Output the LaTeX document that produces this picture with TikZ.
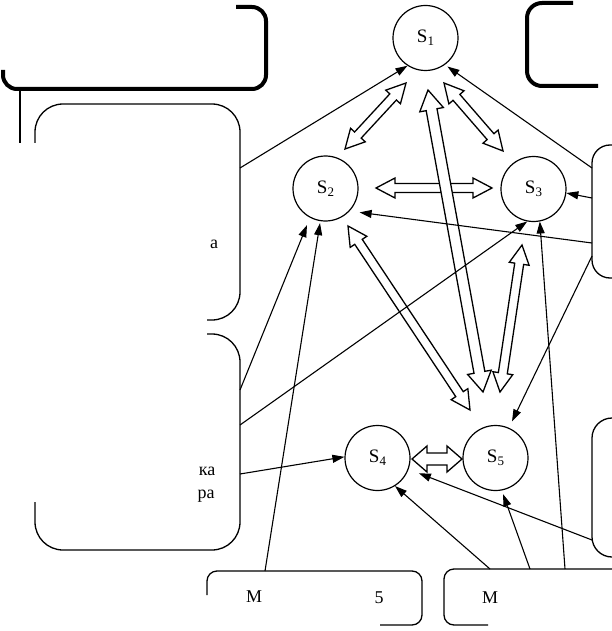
\documentclass[tikz,border=0pt]{standalone}
\usepackage{fontspec}
\setmainfont{Liberation Serif}
\usetikzlibrary{arrows.meta,calc}
\newcommand\hollowarrow[5]{%
\draw[hollow] (#1) -- ($(#1)!#3!(#2)!#4!90:(#2)$) -- ($(#1)!#3!(#2)!#5!90:(#2)$) -- ($(#2)!#3!(#1)!#5!-90:(#1)$) -- ($(#2)!#3!(#1)!#4!-90:(#1)$) -- (#2) -- ($(#2)!#3!(#1)!#4!90:(#1)$) -- ($(#2)!#3!(#1)!#5!90:(#1)$) -- ($(#1)!#3!(#2)!#5!-90:(#2)$) -- ($(#1)!#3!(#2)!#4!-90:(#2)$) -- cycle;}
\newcommand\slabel[1]{S\raisebox{-3pt}{\fontsize{13}{13}\selectfont #1}}
\begin{document}
\begin{tikzpicture}[x=1pt,y=-1pt,
  state/.style={circle,draw,line width=1.2pt,minimum size=65pt,inner sep=0pt,font=\fontsize{19}{19}\selectfont},
  link/.style={line width=1.1pt,-{Triangle[length=12pt,width=8pt]}},
  frame/.style={line width=1.3pt},
  thickframe/.style={line width=4pt},
  hollow/.style={draw,line width=1.3pt,fill=white,line join=miter},
  frag/.style={font=\fontsize{18}{18}\selectfont,inner sep=0pt}]
\useasboundingbox (0,0) rectangle (612,631);

% frames
\draw[thickframe,rounded corners=14pt] (3,70) -- (3,89) -- (266,89) -- (266,7) -- (236,7);
\draw[thickframe,rounded corners=15pt] (573,3) -- (527,3) -- (527,86) -- (598,86);
\draw[frame,line width=1.6pt] (20,89) -- (20,143);
\draw[frame,rounded corners=28pt] (35,143) -- (35,104) -- (240,104) -- (240,320) -- (207,320);
\draw[frame,rounded corners=28pt] (207,334) -- (240,334) -- (240,550) -- (35,550) -- (35,502);
\draw[frame,rounded corners=18pt] (612,145) -- (592,145) -- (592,278) -- (612,278);
\draw[frame,rounded corners=20pt] (612,418) -- (592,418) -- (592,557) -- (612,557);
\draw[frame,rounded corners=10pt] (207,595) -- (207,571) -- (422,571) -- (422,625) -- (380,625);
\draw[frame,rounded corners=10pt] (612,569) -- (444,569) -- (444,625) -- (488,625);

% text fragments
\node[frag] (t1) at (214,244) {а};
\node[frag] (t2) at (207,471) {ка};
\node[frag] (t3) at (206,496) {ра};
\node[frag] (t4) at (254,597) {М};
\node[frag] (t5) at (379,598) {5};
\node[frag] (t6) at (490,598) {М};

% states
\node[state] (S1) at (425.5,38) {\slabel{1}};
\node[state] (S2) at (325.5,188.5) {\slabel{2}};
\node[state] (S3) at (533.5,189) {\slabel{3}};
\node[state] (S4) at (377.5,458) {\slabel{4}};
\node[state] (S5) at (495.5,458) {\slabel{5}};

% hollow double arrow ends
\coordinate (a1) at (406,83);  \coordinate (a2) at (345,149);
\coordinate (b1) at (444,83);  \coordinate (b2) at (503,151);
\coordinate (c1) at (376,188); \coordinate (c2) at (492,188);
\coordinate (d1) at (428,90);  \coordinate (d2) at (483,392);
\coordinate (e1) at (348,226); \coordinate (e2) at (470,410);
\coordinate (f1) at (522,245); \coordinate (f2) at (500,392);
\coordinate (g1) at (412,459); \coordinate (g2) at (462,459);

\hollowarrow{c1}{c2}{19pt}{10pt}{4.5pt}
\hollowarrow{a1}{a2}{19pt}{10pt}{4.5pt}
\hollowarrow{b1}{b2}{19pt}{10pt}{4.5pt}
\hollowarrow{e1}{e2}{19pt}{10pt}{4.5pt}
\hollowarrow{f1}{f2}{19pt}{10pt}{4.5pt}
\hollowarrow{d1}{d2}{20pt}{12pt}{5.5pt}
\hollowarrow{g1}{g2}{15pt}{13pt}{6pt}

% connector sources
\coordinate (p1) at (240,168);
\coordinate (p2) at (592,168);
\coordinate (p3) at (592,198);
\coordinate (p4) at (592,243);
\coordinate (p5) at (592,256);
\coordinate (p6) at (240,390);
\coordinate (p7) at (240,425);
\coordinate (p8) at (240,474);
\coordinate (p9) at (265,571);
\coordinate (p10) at (490,569);
\coordinate (p11) at (530,569);
\coordinate (p12) at (565,569);
\coordinate (p13) at (592,540);

\draw[link] (p1) -- (S1.237);
\draw[link,shorten >=3pt] (p2) -- (S1.306);
\draw[link] (p3) -- (S3.353);
\draw[link,shorten >=10pt] (p4) -- (S2.317);
\draw[link,shorten >=7pt] (p5) -- (S5.66);
\draw[link,shorten >=8pt] (p6) -- (S2.242);
\draw[link] (p7) -- (S3.259);
\draw[link] (p8) -- (S4.178);
\draw[link,shorten >=2pt] (p9) -- (S2.261);
\draw[link] (p10) -- (S4.302);
\draw[link,shorten >=4pt] (p11) -- (S5.281);
\draw[link] (p12) -- (S3.281);
\draw[link,shorten >=11pt] (p13) -- (S4.340);
\end{tikzpicture}
\end{document}
